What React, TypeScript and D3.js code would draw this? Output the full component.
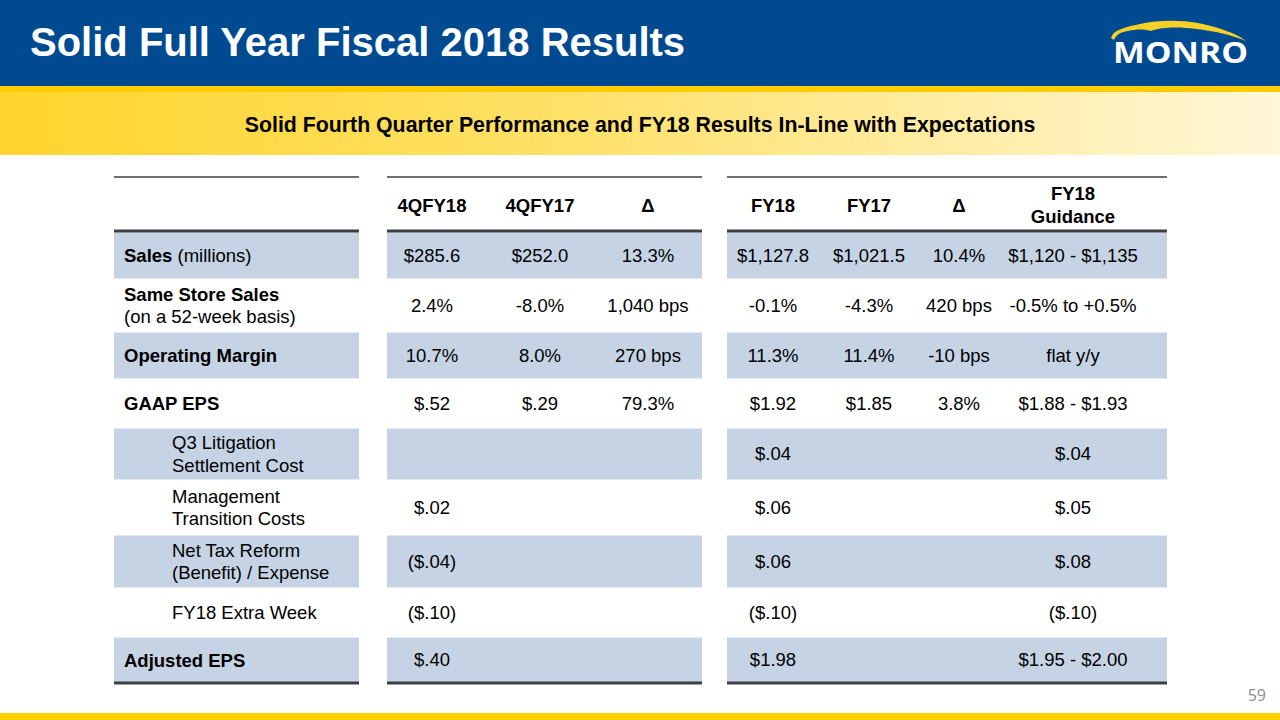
import React from "react";
import * as d3 from "d3";

// ---------- data ----------
const columnHeaders = ["4QFY18", "4QFY17", "Δ", "FY18", "FY17", "Δ", "FY18\nGuidance"];
const rowLabels = [
  "**Sales** (millions)",
  "**Same Store Sales**\n(on a 52-week basis)",
  "**Operating Margin**",
  "**GAAP EPS**",
  "Q3 Litigation\nSettlement Cost",
  "Management\nTransition Costs",
  "Net Tax Reform\n(Benefit) / Expense",
  "FY18 Extra Week",
  "**Adjusted EPS**",
];
const rowIndented = [false, false, false, false, true, true, true, true, false];
const q4FY18 = ["$285.6", "2.4%", "10.7%", "$.52", "", "$.02", "($.04)", "($.10)", "$.40"];
const q4FY17 = ["$252.0", "-8.0%", "8.0%", "$.29", "", "", "", "", ""];
const q4Delta = ["13.3%", "1,040 bps", "270 bps", "79.3%", "", "", "", "", ""];
const fy18 = ["$1,127.8", "-0.1%", "11.3%", "$1.92", "$.04", "$.06", "$.06", "($.10)", "$1.98"];
const fy17 = ["$1,021.5", "-4.3%", "11.4%", "$1.85", "", "", "", "", ""];
const fyDelta = ["10.4%", "420 bps", "-10 bps", "3.8%", "", "", "", "", ""];
const fy18Guidance = ["$1,120 - $1,135", "-0.5% to +0.5%", "flat y/y", "$1.88 - $1.93", "$.04", "$.05", "$.08", "($.10)", "$1.95 - $2.00"];
const valueColumns = [q4FY18, q4FY17, q4Delta, fy18, fy17, fyDelta, fy18Guidance];

const title = "Solid Full Year Fiscal 2018 Results";
const subtitle = "Solid Fourth Quarter Performance and FY18 Results In-Line with Expectations";
const pageNumber = "59";

// ---------- layout ----------
const W = 1280, H = 720;
const FONT = "'Liberation Sans', Arial, Helvetica, sans-serif";
const BLUE = "#004A91";
const SHADE = "#C5D3E4";
const LINE = "#3C3F44";
const groups = [
  { x0: 114, x1: 359 },
  { x0: 387, x1: 702 },
  { x0: 727, x1: 1167 },
];
const colCenters = [432, 540, 648, 773, 869, 959, 1073];
const headerTop = 177, headerBottom = 231;
const rowHeights = [48, 52, 48, 48, 53, 54, 54, 48, 47];
const rowShaded = [true, false, true, false, true, false, true, false, true];

export default function App() {
  const colX = d3.scaleOrdinal<number, number>().domain(d3.range(colCenters.length)).range(colCenters);
  const bounds = [headerBottom, ...Array.from(d3.cumsum(rowHeights), (c) => headerBottom + c)];
  const rowY = (i: number) => bounds[i];
  const rowH = (i: number) => bounds[i + 1] - bounds[i];
  const fs = 18.5;
  const lh = 22.5;

  const renderLabelLine = (line: string, key: number, x: number, y: number) => {
    const parts = line.split(/(\*\*[^*]+\*\*)/).filter((p) => p.length);
    return (
      <text key={key} x={x} y={y} fontSize={fs} fontFamily={FONT} fill="#000" dominantBaseline="central">
        {parts.map((p, j) =>
          p.startsWith("**") ? (
            <tspan key={j} fontWeight="bold">{p.slice(2, -2)}</tspan>
          ) : (
            <tspan key={j}>{p}</tspan>
          )
        )}
      </text>
    );
  };

  return (
    <svg width={W} height={H} viewBox={`0 0 ${W} ${H}`} style={{ display: "block", position: "absolute", left: 0, top: 0 }}>
      <defs>
        <linearGradient id="banner" x1="0" x2="1" y1="0" y2="0">
          <stop offset="0" stopColor="#FFD52C" />
          <stop offset="0.45" stopColor="#FFE169" />
          <stop offset="1" stopColor="#FFF7D8" />
        </linearGradient>
      </defs>
      <rect x={0} y={0} width={W} height={H} fill="#fff" />
      {/* header */}
      <rect x={0} y={0} width={W} height={86} fill={BLUE} />
      <rect x={0} y={86} width={W} height={6} fill="#FFCC00" />
      <rect x={0} y={92} width={W} height={63} fill="url(#banner)" />
      <text x={30} y={56} fill="#fff" fontSize={40} fontWeight="bold" fontFamily={FONT}>{title}</text>
      <text x={640} y={132} fill="#000" fontSize={21.3} fontWeight="bold" fontFamily={FONT} textAnchor="middle">{subtitle}</text>
      {/* logo */}
      <path
        d="M1111,38 C1113,30 1125,27 1140,24 C1158,20 1180,20 1198,23 C1218,27 1238,34 1246,41 C1232,35 1214,31 1196,29 C1182,27 1168,27 1158,29 L1150,31 C1146,29 1136,29 1128,31 C1120,32 1116,35 1114,40 Z"
        fill="#F5D027"
      />
      <text x={1113} y={63} fill="#fff" fontSize={29} fontWeight="bold" fontFamily="'Open Sans', 'Noto Sans', sans-serif" textLength={135} lengthAdjust="spacingAndGlyphs">MONRO</text>

      {/* row shading */}
      {rowHeights.map((_, i) =>
        rowShaded[i]
          ? groups.map((g, k) => (
              <rect key={`s${i}-${k}`} x={g.x0} y={rowY(i) + 1.5} width={g.x1 - g.x0} height={rowH(i) - 2} fill={SHADE} />
            ))
          : null
      )}
      {/* lines */}
      {groups.map((g, k) => (
        <g key={`l${k}`}>
          <line x1={g.x0} x2={g.x1} y1={headerTop} y2={headerTop} stroke={LINE} strokeWidth={1.5} />
          <line x1={g.x0} x2={g.x1} y1={headerBottom} y2={headerBottom} stroke={LINE} strokeWidth={3} />
          <line x1={g.x0} x2={g.x1} y1={bounds[bounds.length - 1]} y2={bounds[bounds.length - 1]} stroke={LINE} strokeWidth={3} />
        </g>
      ))}
      {/* column headers */}
      {columnHeaders.map((h, c) => {
        const lines = h.split("\n");
        const cy = (headerTop + headerBottom) / 2 + 1;
        return lines.map((ln, j) => (
          <text key={`h${c}-${j}`} x={colX(c)} y={cy + (j - (lines.length - 1) / 2) * lh} fontSize={fs} fontWeight="bold"
            fontFamily={FONT} textAnchor="middle" dominantBaseline="central">{ln}</text>
        ));
      })}
      {/* row labels */}
      {rowLabels.map((lab, i) => {
        const lines = lab.split("\n");
        const cy = rowY(i) + rowH(i) / 2;
        const x = rowIndented[i] ? 172 : 124;
        return <g key={`r${i}`}>{lines.map((ln, j) => renderLabelLine(ln, j, x, cy + (j - (lines.length - 1) / 2) * lh))}</g>;
      })}
      {/* values */}
      {valueColumns.map((col, c) =>
        col.map((v, i) =>
          v ? (
            <text key={`v${c}-${i}`} x={colX(c)} y={rowY(i) + rowH(i) / 2} fontSize={fs} fontFamily={FONT}
              textAnchor="middle" dominantBaseline="central">{v}</text>
          ) : null
        )
      )}
      {/* footer */}
      <text x={1266} y={701} fill="#8C8C8C" fontSize={16} fontFamily="'Open Sans', 'Noto Sans', sans-serif" textAnchor="end">{pageNumber}</text>
      <rect x={0} y={713} width={W} height={7} fill="#FFD200" />
    </svg>
  );
}
